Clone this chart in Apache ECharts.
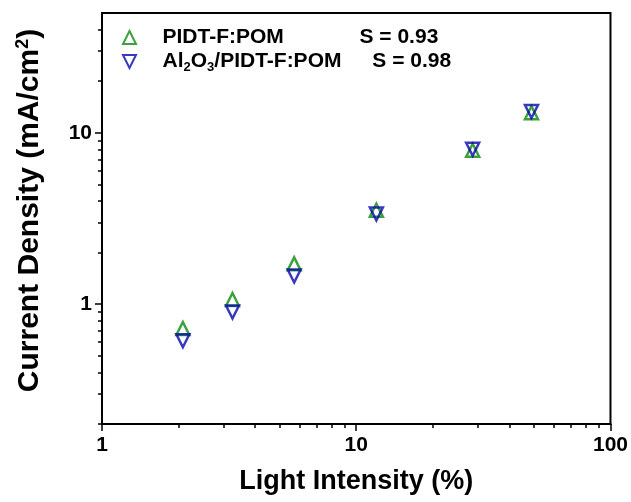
<!DOCTYPE html>
<html>
<head>
<meta charset="utf-8">
<script src="https://cdn.jsdelivr.net/npm/echarts@6/dist/echarts.min.js"></script>
<style>
html,body{margin:0;padding:0;background:#fff;}
#chart{width:631px;height:502px;}
</style>
</head>
<body>
<div id="chart"></div>
<script>
// ---- data ----
const lightIntensity = [2.08, 3.26, 5.70, 12.0, 28.7, 48.9];          // %
const pomDensity     = [0.722, 1.065, 1.72, 3.53, 7.91, 13.1];          // PIDT-F:POM
const alDensity      = [0.612, 0.90, 1.46, 3.36, 8.02, 13.3];           // Al2O3/PIDT-F:POM
const xMajorTicks = [1, 10, 100];
const xMinorTicks = [2, 3, 4, 5, 6, 7, 8, 9, 20, 30, 40, 50, 60, 70, 80, 90];
const yMajorTicks = [1, 10];
const yMinorTicks = [0.2, 0.3, 0.4, 0.5, 0.6, 0.7, 0.8, 0.9, 2, 3, 4, 5, 6, 7, 8, 9, 20, 30, 40];
const seriesNames = ['PIDT-F:POM', 'Al2O3/PIDT-F:POM'];
const slopes = ['S = 0.93', 'S = 0.98'];

const GREEN = '#0d8a0d';
const BLUE = '#0808ac';
const FONT = '"Liberation Sans", Arial, sans-serif';

const chart = echarts.init(document.getElementById('chart'), null, {renderer: 'canvas'});

function zip(xs, ys) { return xs.map((x, i) => [x, ys[i]]); }

const minorX = {
  type: 'log', logBase: 10, min: 1, max: 100, gridIndex: 0, position: 'bottom',
  axisLine: {show: false, onZero: false}, axisLabel: {show: false}, splitLine: {show: false},
  axisTick: {show: true, customValues: xMinorTicks, length: 4, lineStyle: {color: '#000', width: 1.5}}
};
const minorY = {
  type: 'log', logBase: 10, min: 0.2, max: 50, gridIndex: 0, position: 'left',
  axisLine: {show: false, onZero: false}, axisLabel: {show: false}, splitLine: {show: false},
  axisTick: {show: true, customValues: yMinorTicks, length: 4, lineStyle: {color: '#000', width: 1.5}}
};

const base = {fontWeight: 'bold', fontFamily: FONT, color: '#000'};
const legendRich = {
  p: Object.assign({fontSize: 21, width: 197, padding: [0, 0, 0, 21], lineHeight: 24}, base),
  a: Object.assign({fontSize: 21, padding: [0, 0, 0, 21], lineHeight: 24}, base),
  c: Object.assign({fontSize: 21, lineHeight: 24}, base),
  d: Object.assign({fontSize: 21, width: 158, lineHeight: 24}, base),
  b: Object.assign({fontSize: 13, lineHeight: 12, verticalAlign: 'bottom'}, base),
  s: Object.assign({fontSize: 21, lineHeight: 24}, base)
};

chart.setOption({
  animation: false,
  backgroundColor: '#fff',
  grid: {left: 102, right: 20, top: 13, bottom: 78, show: true, borderColor: '#000', borderWidth: 2, containLabel: false},
  legend: {
    orient: 'vertical', left: 117, top: 22, itemWidth: 14, itemHeight: 13, itemGap: 3,
    data: [
      {name: seriesNames[0], icon: 'path://M5,0 L10,10 L0,10 Z'},
      {name: seriesNames[1], icon: 'path://M0,0 L10,0 L5,10 Z'}
    ],
    formatter: function (name) {
      if (name === seriesNames[0]) return '{p|' + seriesNames[0] + '}{s|' + slopes[0] + '}';
      return '{a|Al}{b|2}{c|O}{b|3}{d|/PIDT-F:POM}{s|' + slopes[1] + '}';
    },
    textStyle: {rich: legendRich}
  },
  xAxis: [{
    type: 'log', logBase: 10, min: 1, max: 100, position: 'bottom',
    name: 'Light Intensity (%)', nameLocation: 'middle', nameGap: 44,
    nameTextStyle: Object.assign({fontSize: 27}, base),
    axisLine: {show: true, onZero: false, lineStyle: {color: '#000', width: 2}},
    axisTick: {show: true, customValues: xMajorTicks, length: 7, lineStyle: {color: '#000', width: 1.5}},
    axisLabel: Object.assign({customValues: xMajorTicks, margin: 11, fontSize: 21}, base),
    splitLine: {show: false}
  }, minorX],
  yAxis: [{
    type: 'log', logBase: 10, min: 0.2, max: 50, position: 'left',
    name: '{n|Current Density (mA/cm}{sup|2}{n|)}', nameLocation: 'middle', nameGap: 56,
    nameTextStyle: Object.assign({fontSize: 30, padding: [0, 0, 0, 16],
      rich: {
        n: Object.assign({fontSize: 30, lineHeight: 32}, base),
        sup: Object.assign({fontSize: 18, lineHeight: 19, verticalAlign: 'top'}, base)
      }}, base),
    axisLine: {show: true, onZero: false, lineStyle: {color: '#000', width: 2}},
    axisTick: {show: true, customValues: yMajorTicks, length: 7, lineStyle: {color: '#000', width: 1.5}},
    axisLabel: Object.assign({customValues: yMajorTicks, margin: 10, fontSize: 21}, base),
    splitLine: {show: false}
  }, minorY],
  series: [{
    name: seriesNames[0], type: 'scatter', xAxisIndex: 0, yAxisIndex: 0,
    symbol: 'triangle', symbolSize: 13,
    itemStyle: {color: 'rgba(0,0,0,0)', borderColor: GREEN, borderWidth: 2.5},
    data: zip(lightIntensity, pomDensity)
  }, {
    name: seriesNames[1], type: 'scatter', xAxisIndex: 0, yAxisIndex: 0,
    symbol: 'triangle', symbolSize: 13, symbolRotate: 180,
    itemStyle: {color: 'rgba(0,0,0,0)', borderColor: BLUE, borderWidth: 2.5},
    data: zip(lightIntensity, alDensity)
  }]
});
</script>
</body>
</html>
